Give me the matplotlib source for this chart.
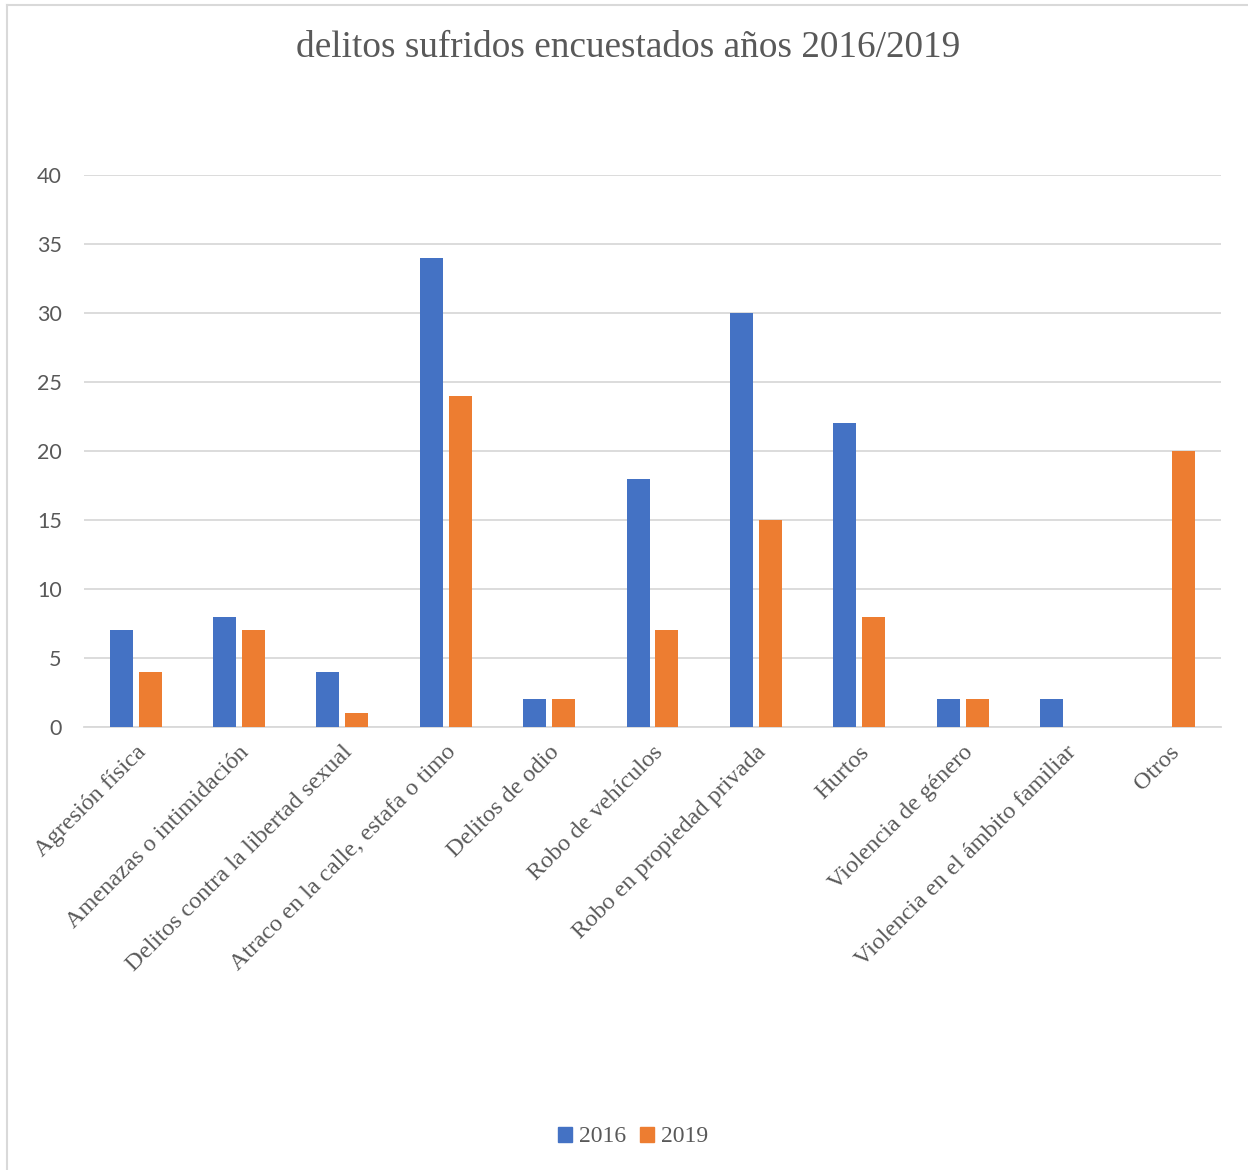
import numpy as np
import matplotlib
matplotlib.use("Agg")
import matplotlib.pyplot as plt
from matplotlib.lines import Line2D
from matplotlib.patches import Patch

categorias = [
    "Agresión física",
    "Amenazas o intimidación",
    "Delitos contra la libertad sexual",
    "Atraco en la calle, estafa o timo",
    "Delitos de odio",
    "Robo de vehículos",
    "Robo en propiedad privada",
    "Hurtos",
    "Violencia de género",
    "Violencia en el ámbito familiar",
    "Otros",
]
v2016 = [7, 8, 4, 34, 2, 18, 30, 22, 2, 2, 0]
v2019 = [4, 7, 1, 24, 2, 7, 15, 8, 2, 0, 20]
yticks = [0, 5, 10, 15, 20, 25, 30, 35, 40]

azul = "#4472C4"
naranja = "#ED7D31"
gris_texto = "#595959"
gris_linea = "#D9D9D9"
serif = "Liberation Serif"

fig = plt.figure(figsize=(12.48, 11.7), dpi=100)
ax = fig.add_axes([84/1248, 1 - 727/1170, (1221 - 84)/1248, (727 - 175)/1170])

x = np.arange(len(categorias))
ancho = 0.222
desp = 0.14
ax.bar(x - desp, v2016, ancho, color=azul, label="2016", zorder=3)
ax.bar(x + desp, v2019, ancho, color=naranja, label="2019", zorder=3)

ax.set_xlim(-0.5, len(categorias) - 0.5)
ax.set_ylim(0, 40)
ax.set_yticks(yticks)
ax.set_yticklabels([str(t) for t in yticks], family="Lato", fontsize=15.5, color=gris_texto)
ax.yaxis.grid(True, color=gris_linea, linewidth=1.3, zorder=0)
ax.tick_params(axis="y", length=0, pad=16)
ax.tick_params(axis="x", length=0, pad=16)
for lado in ["top", "right", "left"]:
    ax.spines[lado].set_visible(False)
ax.spines["bottom"].set_color(gris_linea)
ax.spines["bottom"].set_linewidth(1.3)

ax.set_xticks(x + 0.07)
ax.set_xticklabels(categorias, rotation=45, ha="right", va="center",
                   rotation_mode="anchor", family=serif, fontsize=17.5, color=gris_texto)

fig.text(628/1248, 1 - 48/1170, "delitos sufridos encuestados años 2016/2019",
         ha="center", va="center", family=serif, fontsize=26.8, color=gris_texto)

handles = [Patch(color=azul, label="2016"), Patch(color=naranja, label="2019")]
fig.legend(handles=handles, loc="center", bbox_to_anchor=(633/1248, 1 - 1137/1170),
           ncol=2, frameon=False, prop={"family": serif, "size": 17},
           labelcolor=gris_texto, handlelength=0.6, handleheight=0.6,
           handletextpad=0.3, columnspacing=0.6)

# chart frame (only the left and top edges fall inside the image)
fig.add_artist(Line2D([7/1248, 7/1248], [0, 1 - 5/1170], color=gris_linea, linewidth=1.5))
fig.add_artist(Line2D([7/1248, 1], [1 - 5/1170, 1 - 5/1170], color=gris_linea, linewidth=1.5))

fig.savefig("out.png", dpi=100, facecolor="white")
